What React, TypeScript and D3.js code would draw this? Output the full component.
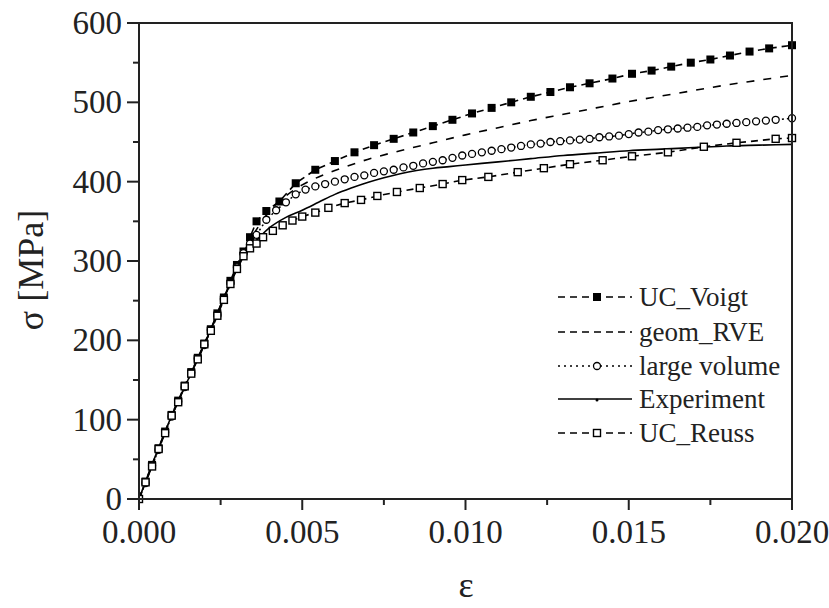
import React from "react";
import * as d3 from "d3";

// ---------- data ----------
const xTicks = [0, 0.005, 0.01, 0.015, 0.02];
const xMinorTicks = [0.0025, 0.0075, 0.0125, 0.0175];
const yTicks = [0, 100, 200, 300, 400, 500, 600];
const yMinorTicks = [50, 150, 250, 350, 450, 550];

const voigtStrain = [0, 0.0002, 0.0004, 0.0006, 0.0008, 0.001, 0.0012, 0.0014, 0.0016, 0.0018, 0.002, 0.0022, 0.0024, 0.0026, 0.0028, 0.003, 0.0032, 0.0034, 0.0036, 0.0039, 0.0043, 0.0048, 0.0054, 0.006, 0.0066, 0.0072, 0.0078, 0.0084, 0.009, 0.0096, 0.0102, 0.0108, 0.0114, 0.012, 0.0126, 0.0132, 0.0138, 0.0145, 0.0151, 0.0157, 0.0163, 0.0169, 0.0175, 0.0181, 0.0187, 0.0193, 0.02];
const voigtStress = [0, 22, 43, 64, 85, 106, 124, 143, 160, 178, 196, 214, 234, 254, 275, 295, 312, 330, 350, 363, 375, 398, 415, 426, 437, 446, 454, 462, 470, 478, 486, 493, 500, 507, 513, 519, 524, 530, 536, 540, 545, 550, 554, 559, 564, 568, 572];

const rveStrain = [0, 0.0005, 0.001, 0.0015, 0.002, 0.0025, 0.003, 0.0034, 0.0037, 0.004, 0.0045, 0.005, 0.0055, 0.006, 0.007, 0.008, 0.009, 0.01, 0.011, 0.012, 0.013, 0.014, 0.015, 0.016, 0.017, 0.018, 0.019, 0.02];
const rveStress = [0, 52, 104, 150, 194, 244, 292, 326, 346, 363, 382, 396, 406, 414, 428, 439, 449, 459, 468, 477, 485, 493, 501, 508, 515, 522, 528, 534];

const lvStrain = [0, 0.0002, 0.0004, 0.0006, 0.0008, 0.001, 0.0012, 0.0014, 0.0016, 0.0018, 0.002, 0.0022, 0.0024, 0.0026, 0.0028, 0.003, 0.0032, 0.0034, 0.0036, 0.0039, 0.0042, 0.0045, 0.0048, 0.0051, 0.0054, 0.0057, 0.006, 0.0063, 0.0066, 0.0069, 0.0072, 0.0075, 0.0078, 0.0081, 0.0084, 0.0087, 0.009, 0.0093, 0.0096, 0.0099, 0.0102, 0.0105, 0.0108, 0.0111, 0.0114, 0.0117, 0.012, 0.0123, 0.0126, 0.0129, 0.0132, 0.0135, 0.0138, 0.0141, 0.0144, 0.0147, 0.015, 0.0153, 0.0156, 0.0159, 0.0162, 0.0165, 0.0168, 0.0171, 0.0174, 0.0177, 0.018, 0.0183, 0.0186, 0.0189, 0.0192, 0.0195, 0.02];
const lvStress = [0, 20, 42, 62, 84, 104, 123, 141, 159, 177, 194, 213, 232, 252, 272, 292, 310, 322, 333, 352, 364, 374, 384, 390, 394, 397, 400, 403, 406, 408, 411, 413, 415, 418, 420, 423, 425, 427, 430, 433, 435, 437, 439, 441, 443, 445, 447, 448, 450, 451, 452, 453, 454, 456, 457, 458, 460, 462, 463, 465, 466, 467, 468, 469, 471, 472, 473, 474, 475, 476, 477, 478, 480];

const expStrain = [0, 0.0005, 0.001, 0.0015, 0.002, 0.0025, 0.003, 0.0033, 0.0036, 0.004, 0.0045, 0.005, 0.0055, 0.006, 0.0065, 0.007, 0.0075, 0.008, 0.0085, 0.009, 0.0095, 0.01, 0.011, 0.012, 0.013, 0.014, 0.015, 0.016, 0.017, 0.018, 0.019, 0.02];
const expStress = [0, 54, 105, 150, 195, 243, 290, 312, 326, 342, 355, 364, 374, 384, 392, 399, 405, 410, 414, 417, 419, 421, 425, 429, 433, 436, 439, 441, 443, 445, 446, 447];

const reussStrain = [0, 0.0002, 0.0004, 0.0006, 0.0008, 0.001, 0.0012, 0.0014, 0.0016, 0.0018, 0.002, 0.0022, 0.0024, 0.0026, 0.0028, 0.003, 0.0032, 0.0034, 0.0036, 0.0038, 0.0041, 0.0044, 0.0047, 0.005, 0.0054, 0.0058, 0.0063, 0.0068, 0.0073, 0.0079, 0.0086, 0.0093, 0.0099, 0.0107, 0.0116, 0.0124, 0.0132, 0.0142, 0.0151, 0.0162, 0.0173, 0.0183, 0.0195, 0.02];
const reussStress = [0, 21, 41, 63, 83, 105, 122, 142, 158, 176, 195, 212, 231, 251, 271, 290, 306, 316, 322, 330, 338, 345, 351, 356, 361, 367, 373, 377, 382, 387, 392, 397, 402, 406, 412, 417, 422, 427, 432, 437, 444, 449, 454, 455];

const legendLabels = ["UC_Voigt", "geom_RVE", "large volume", "Experiment", "UC_Reuss"];

// ---------- layout ----------
const W = 829;
const H = 608;
const X0 = 139;
const X1 = 792;
const Y0 = 499;
const Y1 = 23;
const FONT = "Liberation Serif, Times New Roman, Times, serif";
const TS: React.CSSProperties = { fontFamily: FONT };

const x = d3.scaleLinear().domain([0, 0.02]).range([X0, X1]);
const y = d3.scaleLinear().domain([0, 600]).range([Y0, Y1]);

type Pt = [number, number];
const zip = (a: number[], b: number[]): Pt[] => a.map((v, i) => [v, b[i]]);

const lineGen = d3
  .line<Pt>()
  .x((d) => x(d[0]))
  .y((d) => y(d[1]));
const smoothGen = d3
  .line<Pt>()
  .x((d) => x(d[0]))
  .y((d) => y(d[1]))
  .curve(d3.curveMonotoneX);

export default function App() {
  const voigt = zip(voigtStrain, voigtStress);
  const rve = zip(rveStrain, rveStress);
  const lv = zip(lvStrain, lvStress);
  const exp = zip(expStrain, expStress);
  const reuss = zip(reussStrain, reussStress);

  const legendY = [297, 332, 366, 399, 433];
  const lx0 = 558;
  const lx1 = 632;
  const lm = 597;

  return (
    <svg
      width={W}
      height={H}
      style={{ position: "absolute", left: 0, top: 0, background: "#fff", fontFamily: FONT }}
    >
      <rect x={0} y={0} width={W} height={H} fill="#fff" />
      <defs>
        <clipPath id="plotClip">
          <rect x={X0} y={Y1 - 6} width={X1 - X0 + 6} height={Y0 - Y1 + 12} />
        </clipPath>
      </defs>

      {/* curves */}
      <g clipPath="url(#plotClip)" fill="none" stroke="#000">
        <path d={smoothGen(rve) || ""} strokeWidth={1.6} strokeDasharray="8,9" />
        <path d={smoothGen(exp) || ""} strokeWidth={1.6} />
        <path d={lineGen(voigt) || ""} strokeWidth={1.6} strokeDasharray="7,5" />
        <path d={lineGen(lv) || ""} strokeWidth={1.5} strokeDasharray="2,3" />
        <path d={lineGen(reuss) || ""} strokeWidth={1.6} strokeDasharray="7,5" />

        {voigt.map((d, i) => (
          <rect key={"vo" + i} x={x(d[0]) - 4} y={y(d[1]) - 4} width={8} height={8} fill="#000" stroke="none" />
        ))}
        {lv.map((d, i) => (
          <circle key={"lv" + i} cx={x(d[0])} cy={y(d[1])} r={3.5} fill="#fff" stroke="#000" strokeWidth={1.3} />
        ))}
        {reuss.map((d, i) => (
          <rect key={"re" + i} x={x(d[0]) - 3.5} y={y(d[1]) - 3.5} width={7} height={7} fill="#fff" stroke="#000" strokeWidth={1.4} />
        ))}
      </g>

      {/* frame */}
      <rect x={X0} y={Y1} width={X1 - X0} height={Y0 - Y1} fill="none" stroke="#222" strokeWidth={2} />

      {/* x axis ticks */}
      {xTicks.map((t) => (
        <g key={"xt" + t}>
          <line x1={x(t)} x2={x(t)} y1={Y0} y2={Y0 + 11} stroke="#222" strokeWidth={2} />
          <text x={x(t)} y={543} textAnchor="middle" fontSize={33} fill="#222" style={TS}>
            {d3.format(".3f")(t)}
          </text>
        </g>
      ))}
      {xMinorTicks.map((t) => (
        <line key={"xm" + t} x1={x(t)} x2={x(t)} y1={Y0} y2={Y0 + 6} stroke="#222" strokeWidth={2} />
      ))}

      {/* y axis ticks */}
      {yTicks.map((t) => (
        <g key={"yt" + t}>
          <line x1={X0 - 12} x2={X0} y1={y(t)} y2={y(t)} stroke="#222" strokeWidth={2} />
          <text x={122} y={y(t) + 11} textAnchor="end" fontSize={33} fill="#222" style={TS}>
            {t}
          </text>
        </g>
      ))}
      {yMinorTicks.map((t) => (
        <line key={"ym" + t} x1={X0 - 6} x2={X0} y1={y(t)} y2={y(t)} stroke="#222" strokeWidth={2} />
      ))}

      {/* axis titles */}
      <text
        transform={`translate(43, ${270}) rotate(-90)`}
        textAnchor="middle"
        fontSize={36}
        fill="#222"
        style={TS}
      >
        σ [MPa]
      </text>
      <text x={466} y={597} textAnchor="middle" fontSize={36} fill="#222" style={TS}>
        ε
      </text>

      {/* legend */}
      <g stroke="#000" fill="none">
        <line x1={lx0} x2={lx1} y1={legendY[0]} y2={legendY[0]} strokeWidth={1.6} strokeDasharray="7,5" />
        <rect x={lm - 4} y={legendY[0] - 4} width={8} height={8} fill="#000" stroke="none" />
        <line x1={lx0} x2={lx1} y1={legendY[1]} y2={legendY[1]} strokeWidth={1.6} strokeDasharray="7,5" />
        <line x1={lx0} x2={lx1} y1={legendY[2]} y2={legendY[2]} strokeWidth={1.5} strokeDasharray="2,4" />
        <circle cx={lm} cy={legendY[2]} r={3.5} fill="#fff" strokeWidth={1.3} />
        <line x1={lx0} x2={lx1} y1={legendY[3]} y2={legendY[3]} strokeWidth={1.6} />
        <circle cx={lm} cy={legendY[3] + 1} r={1.5} fill="#000" stroke="none" />
        <line x1={lx0} x2={lx1} y1={legendY[4]} y2={legendY[4]} strokeWidth={1.6} strokeDasharray="7,5" />
        <rect x={lm - 3.5} y={legendY[4] - 3.5} width={7} height={7} fill="#fff" strokeWidth={1.4} />
      </g>
      {legendLabels.map((l, i) => (
        <text key={l} x={639} y={legendY[i] + 9} fontSize={27} fill="#222" style={TS}>
          {l}
        </text>
      ))}
    </svg>
  );
}
